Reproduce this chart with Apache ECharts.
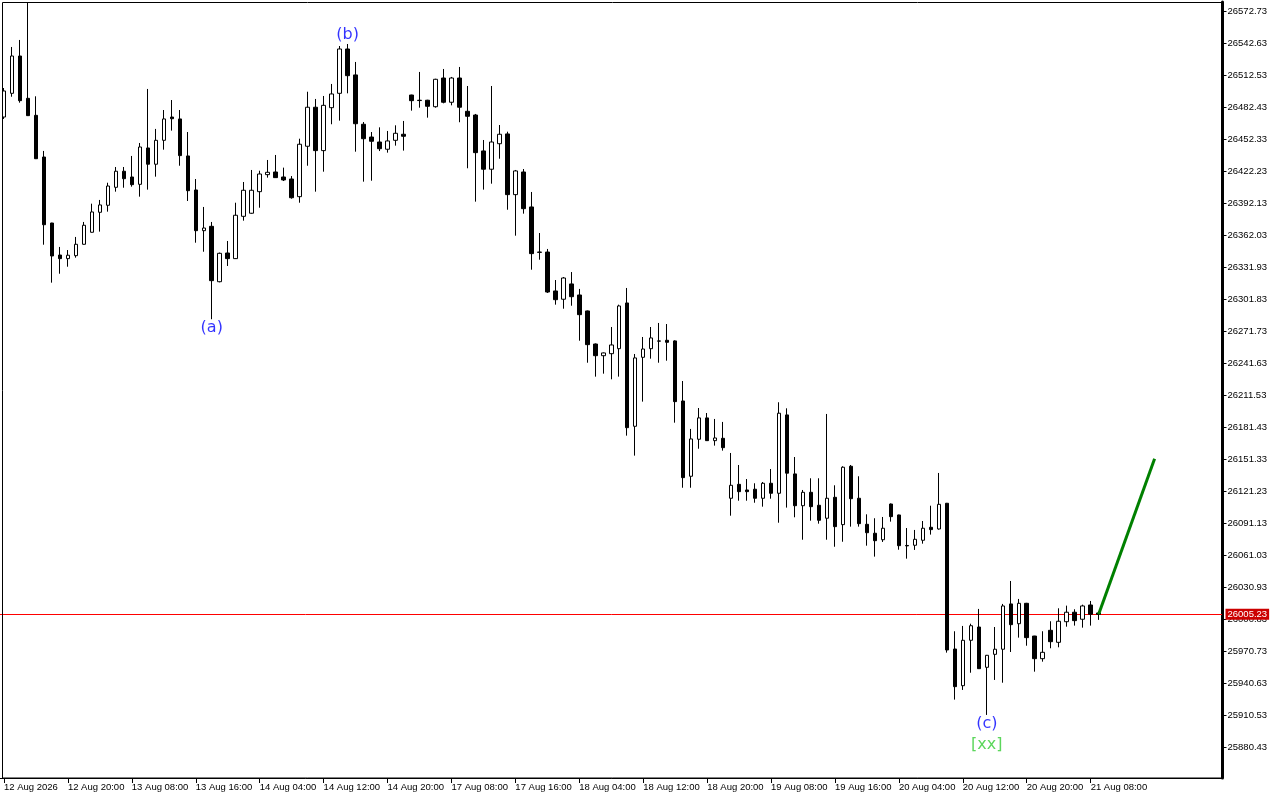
<!DOCTYPE html>
<html>
<head>
<meta charset="utf-8">
<script src="https://cdn.jsdelivr.net/npm/echarts@6/dist/echarts.min.js"></script>
<style>
html,body{margin:0;padding:0;background:#fff;}
#chart{width:1280px;height:800px;}
</style>
</head>
<body>
<div id="chart"></div>
<script>
// ---- data (H1 candles, 12 Aug 12:00 .. 21 Aug 09:00) ----
const tickLabels = ['12 Aug 2026','12 Aug 20:00','13 Aug 08:00','13 Aug 16:00','14 Aug 04:00','14 Aug 12:00','14 Aug 20:00','17 Aug 08:00','17 Aug 16:00','18 Aug 04:00','18 Aug 12:00','18 Aug 20:00','19 Aug 08:00','19 Aug 16:00','20 Aug 04:00','20 Aug 12:00','20 Aug 20:00','21 Aug 08:00'];
const barsPerLabel = 8;
const totalSlots = 153;   // visible bar slots incl. empty space on the right

const openP = [26473.0,26495.3,26530.4,26490.6,26474.6,26435.4,26373.3,26343.2,26339.8,26342.6,
26353.3,26364.6,26383.4,26390.0,26406.9,26422.0,26416.6,26409.7,26443.9,26428.6,
26451.1,26473.0,26471.2,26436.4,26404.4,26366.1,26370.2,26318.1,26345.1,26339.8,
26379.6,26382.5,26402.8,26418.8,26421.3,26416.6,26414.7,26398.1,26445.5,26482.2,
26441.4,26481.8,26495.3,26537.0,26512.6,26466.2,26454.2,26449.5,26442.7,26451.1,
26456.8,26493.7,26488.8,26488.8,26482.7,26509.7,26486.9,26509.7,26478.4,26474.9,
26441.1,26423.9,26447.9,26457.1,26400.0,26421.3,26388.4,26346.0,26346.0,26309.4,
26301.6,26316.0,26305.6,26290.6,26259.5,26248.5,26250.4,26255.1,26298.1,26182.1,
26247.0,26255.1,26262.4,26263.0,26262.4,26205.9,26135.1,26169.9,26190.0,26168.6,
26170.8,26114.4,26127.5,26122.2,26122.9,26114.4,26128.5,26119.1,26192.8,26137.3,
26107.4,26120.0,26107.8,26095.6,26115.3,26089.6,26144.5,26114.4,26089.9,26081.5,
26075.4,26109.0,26098.7,26070.0,26070.2,26074.9,26087.1,26085.5,26109.7,25972.6,
25938.1,25980.8,25993.3,25955.4,25967.6,25972.4,26015.0,25996.4,26015.6,25984.8,
25963.5,25990.2,25978.9,25998.3,26007.2,26000.6,26014.0,26006.5];
const closeP = [26497.5,26530.4,26488.4,26474.3,26433.8,26371.7,26342.3,26339.8,26343.0,26353.3,
26371.2,26383.7,26390.3,26408.1,26422.0,26415.0,26409.4,26444.8,26428.6,26451.1,
26471.2,26471.4,26436.7,26403.7,26366.1,26368.6,26319.1,26344.8,26339.8,26380.6,
26404.1,26404.1,26419.4,26421.0,26416.0,26413.8,26397.1,26447.4,26482.2,26441.4,
26484.0,26494.7,26537.0,26511.9,26466.7,26452.6,26450.2,26443.2,26450.5,26457.7,
26454.9,26488.4,26488.5,26483.1,26508.5,26486.9,26509.7,26482.2,26473.7,26439.5,
26423.9,26449.5,26456.8,26400.0,26422.3,26386.8,26344.5,26345.7,26308.4,26301.2,
26321.6,26304.0,26287.1,26258.9,26248.5,26251.1,26258.6,26295.3,26180.8,26246.4,
26254.8,26265.2,26262.2,26261.1,26205.3,26133.8,26170.2,26190.0,26168.6,26171.1,
26162.0,26126.6,26120.6,26120.6,26114.4,26128.5,26119.1,26194.4,26138.0,26107.4,
26120.0,26106.5,26093.7,26114.4,26087.7,26143.6,26114.0,26090.5,26082.0,26074.5,
26086.2,26097.1,26069.8,26069.6,26075.8,26086.2,26084.9,26108.7,25971.7,25937.2,
25980.8,25994.5,25954.1,25966.7,25972.4,26013.1,25995.5,26015.6,25983.3,25963.5,
25969.5,25979.5,25998.7,26007.2,25999.3,26013.1,26005.3,26005.23];
const lowP = [26471.2,26492.1,26486.5,26474.0,26433.5,26352.9,26317.2,26325.6,26332.2,26340.7,
26353.0,26364.3,26365.2,26384.0,26402.8,26406.5,26407.5,26398.1,26404.7,26416.9,
26442.3,26460.2,26427.2,26394.0,26354.8,26346.3,26282.8,26317.5,26332.9,26339.5,
26375.5,26382.0,26387.7,26416.0,26415.8,26412.8,26396.2,26392.4,26427.2,26402.8,
26421.6,26466.2,26469.6,26495.3,26440.4,26412.2,26413.1,26441.0,26439.5,26446.1,
26441.4,26479.0,26481.8,26472.4,26481.8,26485.9,26484.0,26468.1,26424.8,26393.4,
26404.7,26410.3,26433.8,26385.8,26361.4,26382.1,26329.4,26338.8,26307.5,26296.5,
26292.7,26295.5,26262.6,26241.9,26228.8,26231.6,26226.3,26228.8,26173.3,26154.5,
26205.3,26245.7,26241.9,26243.8,26185.5,26124.3,26124.3,26161.0,26168.3,26163.9,
26159.2,26098.0,26112.1,26112.1,26110.2,26106.5,26114.0,26091.4,26105.6,26096.5,
26075.4,26093.3,26090.5,26075.4,26068.8,26073.5,26087.7,26087.7,26069.8,26059.5,
26073.3,26092.4,26066.0,26057.6,26065.8,26071.7,26080.2,26084.9,25969.2,25925.0,
25934.1,25950.3,25953.8,25910.6,25943.5,25940.9,25969.8,25983.3,25975.7,25951.3,
25960.7,25973.3,25974.2,25993.6,25994.6,25992.7,25994.6,26000.0];
const highP = [26500.3,26538.9,26545.5,26580.5,26492.5,26441.1,26373.5,26350.8,26347.9,26360.2,
26374.3,26391.5,26395.0,26411.2,26426.0,26426.0,26436.4,26448.6,26499.4,26461.8,
26479.6,26489.0,26479.6,26458.9,26414.7,26388.4,26374.3,26345.5,26356.4,26392.4,
26411.9,26423.2,26422.5,26432.6,26437.3,26425.4,26417.5,26452.6,26496.8,26490.0,
26492.8,26504.1,26539.8,26541.7,26524.8,26468.3,26458.9,26463.3,26459.9,26465.2,
26469.3,26494.0,26515.4,26489.2,26509.0,26518.2,26510.7,26520.1,26502.2,26475.9,
26451.4,26502.2,26465.5,26459.2,26423.2,26424.1,26402.5,26363.9,26348.9,26319.7,
26322.5,26327.2,26311.3,26291.0,26260.0,26251.5,26275.5,26296.5,26312.2,26250.1,
26266.1,26275.5,26279.3,26278.3,26263.0,26224.7,26179.6,26199.3,26194.6,26189.0,
26186.2,26157.0,26145.7,26132.5,26128.5,26129.7,26141.9,26204.7,26199.0,26153.2,
26122.2,26133.2,26133.2,26193.7,26126.6,26144.5,26145.7,26135.1,26099.3,26095.6,
26096.8,26109.5,26099.0,26086.4,26084.6,26093.0,26107.4,26138.2,26110.0,25989.3,
25994.3,25996.4,26010.3,25967.0,25993.3,26015.0,26036.6,26019.7,26016.0,25985.0,
25989.3,25998.7,26010.9,26013.4,26010.0,26014.3,26017.8,26008.0];

const currentPrice = 26005.23;
const forecastIdx = [137, 144];
const forecastVal = [26005.23, 26151.5];

const yTicks = [26572.73,26542.63,26512.53,26482.43,26452.33,26422.23,26392.13,26362.03,26331.93,26301.83,
26271.73,26241.63,26211.53,26181.43,26151.33,26121.23,26091.13,26061.03,26030.93,26000.83,
25970.73,25940.63,25910.53,25880.43];
const yMin = 25851.27, yMax = 26581.20;

const waveLabels = [
  {text:'(a)', idx:26, at:'low'},
  {text:'(b)', idx:43, at:'high'},
  {text:'(c)', idx:123, at:'low'}
];
const degreeLabel = {text:'[xx]', idx:123};

// ---- build ----
const categories = [];
for (let i = 0; i < totalSlots; i++) categories.push('bar' + i);
const candles = openP.map((o, i) => [o, closeP[i], lowP[i], highP[i]]);
const nBars = openP.length;

const annot = waveLabels.map(w => ({
  value: [w.idx, w.at === 'low' ? lowP[w.idx] : highP[w.idx]],
  label: {formatter: w.text, position: w.at === 'low' ? 'bottom' : 'top', distance: 1}
}));
annot.push({
  value: [degreeLabel.idx, lowP[degreeLabel.idx]],
  label: {formatter: degreeLabel.text, position: 'bottom', distance: 1, offset: [0, 21], color: '#33cc33'}
});

const chart = echarts.init(document.getElementById('chart'), null, {renderer: 'canvas'});
chart.setOption({
  animation: false,
  backgroundColor: '#ffffff',
  grid: {left: -1.5, top: 2, width: 1224, height: 776, containLabel: false},
  xAxis: {
    type: 'category',
    data: categories,
    boundaryGap: true,
    axisLine: {show: true, lineStyle: {color: '#000', width: 1}},
    axisTick: {show: true, alignWithLabel: true, length: 5, lineStyle: {color: '#000'},
      interval: (i) => i % barsPerLabel === 0 && i < nBars},
    axisLabel: {
      interval: (i) => i % barsPerLabel === 0 && i < nBars,
      formatter: (v, i) => (i % barsPerLabel === 0 && i / barsPerLabel < tickLabels.length) ? tickLabels[i / barsPerLabel] : '',
      align: 'left', margin: 4, padding: [0, 0, 0, 0],
      color: '#000', fontFamily: 'Liberation Sans', fontSize: 9.5
    },
    splitLine: {show: false}
  },
  yAxis: {
    type: 'value',
    position: 'right',
    min: yMin, max: yMax,
    scale: true,
    axisLine: {show: true, lineStyle: {color: '#000', width: 3}},
    axisTick: {show: true, inside: false, length: 4, customValues: yTicks, lineStyle: {color: '#000'}},
    axisLabel: {customValues: yTicks, formatter: (v) => v.toFixed(2), margin: 5,
      color: '#000', fontFamily: 'Liberation Sans', fontSize: 9.5},
    splitLine: {show: false}
  },
  graphic: [{
    type: 'rect', z: 100, silent: true,
    shape: {x: 2.5, y: 2.5, width: 1220, height: 775.5},
    style: {fill: null, stroke: '#000', lineWidth: 1}
  }],
  series: [
    {
      type: 'candlestick',
      data: candles,
      barWidth: 4,
      clip: true,
      z: 3,
      itemStyle: {color: '#ffffff', color0: '#000000', borderColor: '#000000', borderColor0: '#000000', borderWidth: 1},
      markLine: {
        silent: true,
        symbol: ['none', 'none'],
        z: 2,
        lineStyle: {color: '#ff0000', width: 1, type: 'solid'},
        label: {show: true, position: 'end', distance: 3, formatter: currentPrice.toFixed(2),
          color: '#fff', backgroundColor: '#cc0000', padding: [1, 2, 0, 2],
          fontFamily: 'Liberation Sans', fontSize: 9.5},
        data: [{yAxis: currentPrice}]
      }
    },
    {
      type: 'line',
      data: forecastIdx.map((x, k) => [x, forecastVal[k]]),
      symbol: 'none',
      z: 5,
      lineStyle: {color: '#008000', width: 3},
      silent: true
    },
    {
      type: 'scatter',
      data: annot,
      symbolSize: 0,
      z: 6,
      silent: true,
      itemStyle: {color: 'rgba(0,0,0,0)'},
      label: {show: true, color: '#0000ff', fontFamily: 'DejaVu Sans', fontSize: 16}
    }
  ]
});
</script>
</body>
</html>
